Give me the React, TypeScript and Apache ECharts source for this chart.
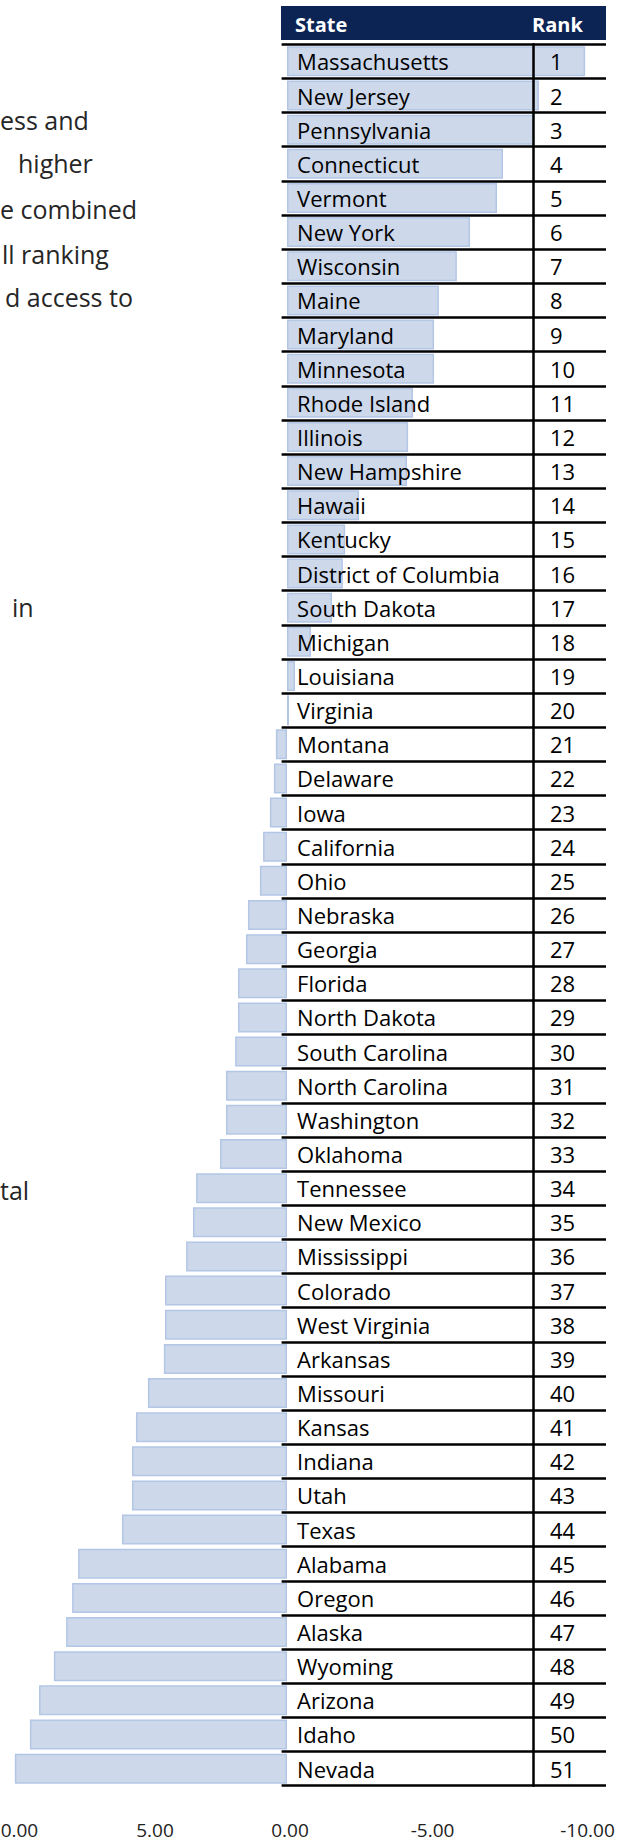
import React, { useEffect, useRef } from "react";
import * as echarts from "echarts";

const states = [
  "Massachusetts", "New Jersey", "Pennsylvania", "Connecticut", "Vermont", "New York",
  "Wisconsin", "Maine", "Maryland", "Minnesota", "Rhode Island", "Illinois",
  "New Hampshire", "Hawaii", "Kentucky", "District of Columbia", "South Dakota", "Michigan",
  "Louisiana", "Virginia", "Montana", "Delaware", "Iowa", "California", "Ohio",
  "Nebraska", "Georgia", "Florida", "North Dakota", "South Carolina", "North Carolina",
  "Washington", "Oklahoma", "Tennessee", "New Mexico", "Mississippi", "Colorado",
  "West Virginia", "Arkansas", "Missouri", "Kansas", "Indiana", "Utah", "Texas",
  "Alabama", "Oregon", "Alaska", "Wyoming", "Arizona", "Idaho", "Nevada",
];

const ranks = [
  "1", "2", "3", "4", "5", "6", "7", "8", "9", "10", "11", "12", "13", "14", "15", "16", "17",
  "18", "19", "20", "21", "22", "23", "24", "25", "26", "27", "28", "29", "30", "31", "32", "33",
  "34", "35", "36", "37", "38", "39", "40", "41", "42", "43", "44", "45", "46", "47", "48", "49",
  "50", "51",
];

const scores = [
  -10.46, -8.84, -8.67, -7.58, -7.37, -6.42, -5.96, -5.33, -5.16, -5.16, -4.42, -4.25,
  -4.21, -2.53, -2.04, -1.96, -1.58, -0.84, -0.28, -0.07, 0.39, 0.46, 0.6, 0.84, 0.95,
  1.37, 1.44, 1.72, 1.72, 1.82, 2.14, 2.14, 2.35, 3.19, 3.3, 3.54, 4.28, 4.28, 4.32,
  4.88, 5.3, 5.44, 5.44, 5.79, 7.33, 7.54, 7.75, 8.18, 8.7, 9.02, 9.55,
];

const headerLabels = ["State", "Rank"];
const paragraphFragments = ["ess and", "higher", "e combined", "ll ranking", "d access to", "in", "tal"];

const FONT = "'Open Sans', 'Noto Sans', sans-serif";

export default function App() {
  const ref = useRef<HTMLDivElement>(null);

  useEffect(() => {
    if (!ref.current) return;
    const chart = echarts.init(ref.current, undefined, { renderer: "svg" });

    const top = 44.3;
    const height = 1741.4;
    const bottom = 1844 - top - height;

    const fragPos = [
      [0, 120], [18, 163], [0, 209], [2, 254], [5, 297], [12, 607], [0, 1190],
    ];

    // small per-label nudges so the tick labels sit where the reference draws them
    const labelKey: Record<string, string> = { "10": "a", "5": "b", "0": "c", "-5": "d", "-10": "e" };
    const labelNudge: Record<string, number> = { a: 24, b: 21, c: 6, d: 6, e: 31 };
    const rich: Record<string, any> = {};
    Object.keys(labelNudge).forEach((k) => {
      rich[k] = {
        fontSize: 19,
        fontFamily: FONT,
        color: "#222",
        padding: [0, 0, 0, labelNudge[k]],
      };
    });

    const graphic: any[] = [
      {
        type: "rect",
        shape: { x: 281, y: 6, width: 325, height: 34 },
        style: { fill: "#0b2454" },
        z: 5,
      },
      {
        type: "text",
        x: 295,
        y: 24,
        z: 6,
        style: {
          text: headerLabels[0], fill: "#fff", fontSize: 20, fontWeight: "bold",
          fontFamily: FONT, verticalAlign: "middle", align: "left",
        },
      },
      {
        type: "text",
        x: 532,
        y: 24,
        z: 6,
        style: {
          text: headerLabels[1], fill: "#fff", fontSize: 20, fontWeight: "bold",
          fontFamily: FONT, verticalAlign: "middle", align: "left",
        },
      },
      ...paragraphFragments.map((t, i) => ({
        type: "text",
        x: fragPos[i][0],
        y: fragPos[i][1],
        style: {
          text: t, fill: "#262626", fontSize: 25, fontFamily: FONT,
          verticalAlign: "middle", align: "left",
        },
      })),
    ];

    chart.setOption({
      animation: false,
      backgroundColor: "#ffffff",
      graphic,
      grid: [
        { left: 2, right: 54, top, bottom, outerBoundsMode: "none", containLabel: false },
        { left: 281.6, right: 20, top, bottom, outerBoundsMode: "none", containLabel: false },
        { left: 533, right: 20, top, bottom, outerBoundsMode: "none", containLabel: false },
      ],
      xAxis: [
        {
          gridIndex: 0,
          type: "value",
          inverse: true,
          min: -10,
          max: 10,
          interval: 5,
          axisLine: { show: false, onZero: false },
          axisTick: { show: false },
          splitLine: { show: false },
          axisLabel: {
            margin: 35,
            fontSize: 19,
            fontFamily: FONT,
            color: "#222",
            formatter: (v: number) => {
              const key = labelKey[String(Math.round(v))] || "c";
              return `{${key}|${v.toFixed(2)}}`;
            },
            rich,
          },
        },
        { gridIndex: 1, type: "value", show: false, min: 0, max: 1 },
        { gridIndex: 2, type: "value", show: false, min: 0, max: 1 },
      ],
      yAxis: [
        {
          gridIndex: 0,
          type: "category",
          inverse: true,
          data: states,
          show: false,
        },
        {
          gridIndex: 1,
          type: "category",
          inverse: true,
          data: states,
          z: 10,
          axisLine: { show: false, onZero: false },
          axisTick: { show: false },
          splitLine: { show: true, lineStyle: { color: "#000", width: 2.5 } },
          axisLabel: {
            inside: true,
            interval: 0,
            margin: 15.5,
            fontSize: 22,
            fontFamily: FONT,
            color: "#000",
          },
        },
        {
          gridIndex: 2,
          type: "category",
          inverse: true,
          data: ranks,
          z: 10,
          axisLine: { show: true, onZero: false, lineStyle: { color: "#000", width: 2.5 } },
          axisTick: { show: false },
          splitLine: { show: false },
          axisLabel: {
            inside: true,
            interval: 0,
            margin: 17,
            fontSize: 22,
            fontFamily: FONT,
            color: "#000",
          },
        },
      ],
      series: [
        {
          type: "bar",
          xAxisIndex: 0,
          yAxisIndex: 0,
          data: scores,
          barWidth: 30,
          clip: false,
          itemStyle: {
            color: "#cdd8ea",
            borderColor: "#b4c6e6",
            borderWidth: 1.5,
          },
        },
      ],
    });

    return () => chart.dispose();
  }, []);

  return (
    <div
      ref={ref}
      style={{ position: "absolute", left: 0, top: 0, width: 626, height: 1844 }}
    />
  );
}
